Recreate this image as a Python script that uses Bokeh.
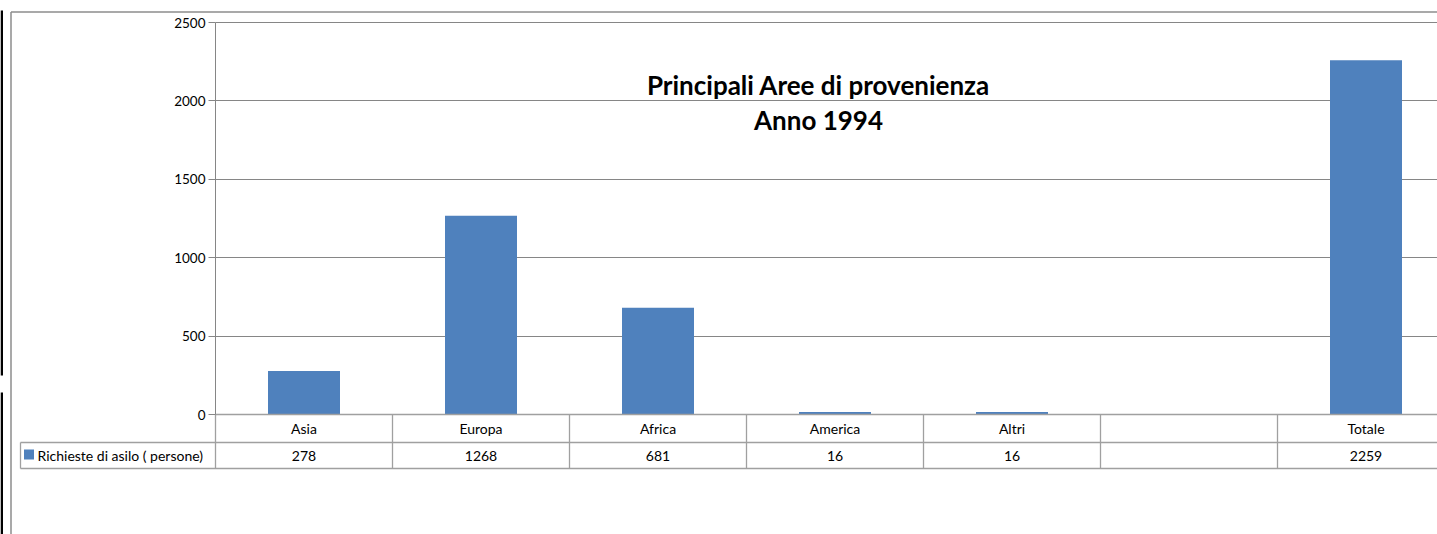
from bokeh.plotting import figure
from bokeh.models import Range1d, LinearAxis, FixedTicker, Grid, ColumnDataSource
from bokeh.core.properties import value
from bokeh.embed import file_html
from bokeh.resources import INLINE

# ---------------- data ----------------
categories = ["Asia", "Europa", "Africa", "America", "Altri", "", "Totale"]
richieste = [278, 1268, 681, 16, 16, None, 2259]
series_name = "Richieste di asilo ( persone)"
title_lines = ["Principali Aree di provenienza", "Anno 1994"]
y_ticks = [0, 500, 1000, 1500, 2000, 2500]

# ---------------- layout helpers (page pixels -> data) ----------------
FIG_W, FIG_H = 1437, 534
PAGE_OFF = 0
AX_LEFT_PX = 215      # page x of y axis
CAT_W_PX = 177        # width of one category column
ZERO_PX = 414         # page y of value 0
TOP_PX = 22           # page y of value 2500
PX_PER_UNIT = (ZERO_PX - TOP_PX) / 2500.0


def px_to_x(px):
    return (px - AX_LEFT_PX) / CAT_W_PX - 0.5


def py_to_y(py):
    return (ZERO_PX - py) / PX_PER_UNIT


BL, BT = 0, 2
x0, x1 = px_to_x(PAGE_OFF + BL), px_to_x(PAGE_OFF + FIG_W)
y0, y1 = py_to_y(PAGE_OFF + FIG_H), py_to_y(PAGE_OFF + BT)

FONT = "Lato"
GRID_COL = "#868686"
TABLE_COL = "#a0a0a0"
BAR_COL = "#4F81BD"

p = figure(width=FIG_W, height=FIG_H, output_backend="svg", toolbar_location=None,
           x_axis_type=None, y_axis_type=None,
           x_range=Range1d(x0, x1), y_range=Range1d(y0, y1),
           min_border_left=BL, min_border_right=0, min_border_top=BT, min_border_bottom=0)
p.outline_line_color = None
p.background_fill_color = "white"
p.border_fill_color = "white"

n = len(categories)
idx = list(range(n))
x_left_axis = -0.5

# grid lines
grid_ok = True
try:
    g = Grid(dimension=1, ticker=FixedTicker(ticks=y_ticks), cross_bounds=(x_left_axis, x1),
             grid_line_color=GRID_COL, grid_line_width=1)
    p.add_layout(g)
except Exception:
    grid_ok = False
if not grid_ok:
    p.segment(x0=[x_left_axis] * len(y_ticks), x1=[x1] * len(y_ticks), y0=y_ticks, y1=y_ticks,
              line_color=GRID_COL, line_width=1)

# bars
vals = [float("nan") if v is None else v for v in richieste]
src = ColumnDataSource(dict(x=idx, top=vals))
p.vbar(x="x", top="top", bottom=0, width=72 / CAT_W_PX, source=src, fill_color=BAR_COL, line_color=None)

# y axis at fixed location
yax = LinearAxis(fixed_location=x_left_axis, bounds=(0, 2500), ticker=FixedTicker(ticks=y_ticks),
                 axis_line_color=GRID_COL, major_tick_line_color=GRID_COL,
                 major_tick_out=7, major_tick_in=0, minor_tick_out=0, minor_tick_in=0,
                 major_label_standoff=3,
                 major_label_text_font=FONT, major_label_text_font_size="13.5px",
                 major_label_text_color="black")
p.add_layout(yax, "left")

# ---------------- data table ----------------
row1_top, row1_bot = 0, py_to_y(442)
row2_bot = py_to_y(468)
legend_left = px_to_x(20)
# horizontal lines
p.segment(x0=[x_left_axis, legend_left, legend_left], x1=[x1, x1, x1],
          y0=[row1_top, row1_bot, row2_bot], y1=[row1_top, row1_bot, row2_bot],
          line_color=TABLE_COL, line_width=1.3)
# vertical lines: column boundaries
bounds_x = [i - 0.5 for i in range(n + 1)]
p.segment(x0=bounds_x, x1=bounds_x, y0=[row2_bot] * len(bounds_x), y1=[0] * len(bounds_x),
          line_color=TABLE_COL, line_width=1.3)
p.segment(x0=[legend_left], x1=[legend_left], y0=[row2_bot], y1=[row1_bot],
          line_color=TABLE_COL, line_width=1.3)

cat_y = py_to_y(428)
val_y = py_to_y(455)
p.text(x=idx, y=[cat_y] * n, text=categories, text_align="center", text_baseline="middle",
       text_font=value(FONT), text_font_size="14px", text_color="black")
p.text(x=idx, y=[val_y] * n, text=["" if v is None else str(v) for v in richieste],
       text_align="center", text_baseline="middle",
       text_font=value(FONT), text_font_size="14px", text_color="black")
# legend key + series name
p.scatter(x=[px_to_x(28.5)], y=[py_to_y(454)], marker="square", size=10, fill_color=BAR_COL, line_color=None)
p.text(x=[px_to_x(37)], y=[val_y], text=[series_name], text_align="left", text_baseline="middle",
       text_font=value(FONT), text_font_size="14px", text_color="black")

# ---------------- title ----------------
p.text(x=[px_to_x(818)] * 2, y=[py_to_y(84), py_to_y(119)], text=title_lines,
       text_align="center", text_baseline="middle",
       text_font=value(FONT), text_font_size="26px", text_font_style="bold", text_color="black")

# ---------------- outer chart border ----------------
bx, by = px_to_x(10.5), py_to_y(11.5)
p.segment(x0=[bx, bx], x1=[x1, bx], y0=[by, by], y1=[by, y0], line_color="#8c8c8c", line_width=1.5)

# black edge strips at far left of the page
p.quad(left=[px_to_x(0)] * 2, right=[px_to_x(2.5)] * 2,
       top=[py_to_y(10), py_to_y(392)], bottom=[py_to_y(375), py_to_y(FIG_H)],
       fill_color="black", line_color=None)

open("out.html", "w").write(file_html(p, INLINE))
